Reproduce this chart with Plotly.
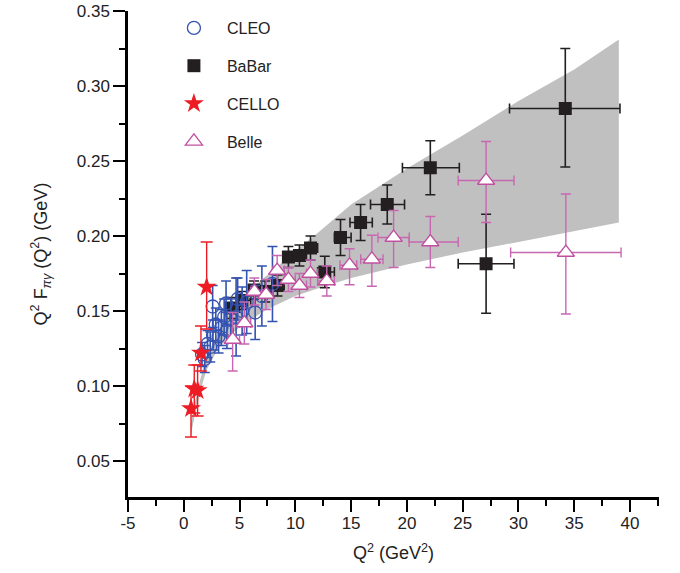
import plotly.graph_objects as go

# ---------------- data ----------------
# theory band (Q^2, lower and upper edge of Q^2 F)
band_q2 = [0.6, 1.0, 1.5, 2.0, 3.0, 4.0, 5.0, 6.0, 7.0, 8.0, 10.0, 12.0, 15.0, 20.0, 25.0, 30.0, 35.0, 39.0]
band_lo = [0.066, 0.081, 0.097, 0.110, 0.124, 0.133, 0.139, 0.144, 0.149, 0.153, 0.160, 0.165, 0.172, 0.181, 0.189, 0.196, 0.203, 0.209]
band_hi = [0.074, 0.089, 0.105, 0.119, 0.135, 0.147, 0.156, 0.164, 0.171, 0.177, 0.190, 0.202, 0.221, 0.245, 0.267, 0.290, 0.311, 0.331]

# CLEO
cleo_q2 = [1.64, 1.88, 2.13, 2.37, 2.59, 2.62, 2.87, 3.12, 3.37, 3.62, 3.79, 3.87, 4.22, 4.69, 4.83, 5.23, 5.64, 6.40, 7.00, 7.95]
cleo_f = [0.121, 0.118, 0.128, 0.126, 0.153, 0.134, 0.141, 0.133, 0.139, 0.146, 0.155, 0.137, 0.145, 0.146, 0.158, 0.150, 0.156, 0.149, 0.160, 0.168]
cleo_err = [0.008, 0.009, 0.009, 0.010, 0.014, 0.010, 0.011, 0.011, 0.012, 0.012, 0.015, 0.012, 0.013, 0.026, 0.014, 0.016, 0.021, 0.018, 0.020, 0.025]

# BaBar
babar_q2 = [4.24, 5.21, 6.30, 7.30, 8.40, 9.38, 10.37, 11.36, 12.64, 14.05, 15.85, 18.24, 22.10, 27.10, 34.20]
babar_f = [0.152, 0.157, 0.164, 0.163, 0.167, 0.186, 0.187, 0.192, 0.176, 0.199, 0.209, 0.221, 0.2455, 0.1815, 0.285]
babar_ep = [0.007, 0.006, 0.006, 0.007, 0.007, 0.007, 0.007, 0.008, 0.0105, 0.012, 0.012, 0.013, 0.018, 0.033, 0.040]
babar_em = [0.007, 0.006, 0.006, 0.007, 0.007, 0.007, 0.007, 0.008, 0.0105, 0.012, 0.012, 0.013, 0.018, 0.033, 0.039]
babar_xm = [0.24, 0.21, 0.30, 0.30, 0.40, 0.38, 0.37, 0.36, 0.64, 0.55, 0.95, 1.50, 2.50, 2.50, 5.00]
babar_xp = [0.76, 0.79, 0.70, 0.70, 0.60, 0.62, 0.63, 0.64, 0.86, 0.95, 1.05, 1.55, 2.60, 2.50, 4.90]

# CELLO
cello_q2 = [0.65, 0.94, 1.24, 1.54, 2.05]
cello_f = [0.085, 0.098, 0.097, 0.122, 0.166]
cello_ep = [0.015, 0.016, 0.017, 0.018, 0.030]
cello_em = [0.019, 0.016, 0.017, 0.012, 0.028]

# Belle
belle_q2 = [4.38, 5.43, 6.33, 7.38, 8.37, 9.38, 10.37, 11.36, 12.82, 14.86, 16.86, 18.81, 22.10, 27.10, 34.25]
belle_f = [0.131, 0.142, 0.163, 0.161, 0.177, 0.171, 0.167, 0.175, 0.170, 0.1805, 0.1845, 0.199, 0.196, 0.237, 0.189]
belle_ep = [0.018, 0.014, 0.009, 0.010, 0.010, 0.008, 0.008, 0.009, 0.010, 0.011, 0.016, 0.018, 0.017, 0.026, 0.039]
belle_em = [0.021, 0.014, 0.009, 0.010, 0.010, 0.008, 0.008, 0.009, 0.010, 0.013, 0.018, 0.020, 0.017, 0.028, 0.041]
belle_xm = [0.38, 0.43, 0.33, 0.38, 0.37, 0.38, 0.37, 0.36, 0.82, 0.86, 1.00, 1.40, 1.90, 2.50, 4.95]
belle_xp = [0.62, 0.57, 0.67, 0.62, 0.63, 0.62, 0.63, 0.64, 0.68, 0.64, 1.00, 1.40, 2.50, 2.50, 4.95]

x_tickvals = [-5, 0, 5, 10, 15, 20, 25, 30, 35, 40]
x_ticktext = ["-5", "0", "5", "10", "15", "20", "25", "30", "35", "40"]
y_tickvals = [0.05, 0.10, 0.15, 0.20, 0.25, 0.30, 0.35]
y_ticktext = ["0.05", "0.10", "0.15", "0.20", "0.25", "0.30", "0.35"]

# ---------------- styles ----------------
FONT = "Liberation Sans, Arial, Helvetica, sans-serif"
BLUE = "#3553b0"
BLACK = "#231f20"
RED = "#ed1c24"
MAG = "#c0509f"
MAG_BAR = "#c767b2"
GRAY = "rgb(192,192,192)"

fig = go.Figure()

# theory band
fig.add_trace(go.Scatter(x=band_q2, y=band_lo, mode="lines", line=dict(width=0, color=GRAY),
                         showlegend=False, hoverinfo="skip"))
fig.add_trace(go.Scatter(x=band_q2, y=band_hi, mode="lines", line=dict(width=0, color=GRAY),
                         fill="tonexty", fillcolor=GRAY, showlegend=False, hoverinfo="skip"))

# BaBar
fig.add_trace(go.Scatter(
    x=babar_q2, y=babar_f, mode="markers", name="BaBar", legendrank=2, legendgroup="b",
    marker=dict(symbol="square", size=13, color=BLACK, line=dict(width=0)),
    error_y=dict(type="data", symmetric=False, array=babar_ep, arrayminus=babar_em,
                 color=BLACK, thickness=1.6, width=5),
    error_x=dict(type="data", symmetric=False, array=babar_xp, arrayminus=babar_xm,
                 color=BLACK, thickness=1.6, width=5),
))

# CLEO
fig.add_trace(go.Scatter(
    x=cleo_q2, y=cleo_f, mode="markers", name="CLEO", legendrank=1, legendgroup="c",
    marker=dict(symbol="circle-open", size=13, color=BLUE, line=dict(width=1.3)),
    error_y=dict(type="data", array=cleo_err, color=BLUE, thickness=1.6, width=5),
))

# Belle
fig.add_trace(go.Scatter(
    x=belle_q2, y=belle_f, mode="markers", name="Belle", legendrank=4, legendgroup="e",
    marker=dict(symbol="triangle-up", size=15, color="white", line=dict(width=1.3, color=MAG)),
    error_y=dict(type="data", symmetric=False, array=belle_ep, arrayminus=belle_em,
                 color=MAG_BAR, thickness=1.4, width=5),
    error_x=dict(type="data", symmetric=False, array=belle_xp, arrayminus=belle_xm,
                 color=MAG_BAR, thickness=1.4, width=5),
))

# CELLO
fig.add_trace(go.Scatter(
    x=cello_q2, y=cello_f, mode="markers", name="CELLO", legendrank=3, legendgroup="d",
    marker=dict(symbol="star", size=15, color=RED, line=dict(width=0)),
    error_y=dict(type="data", symmetric=False, array=cello_ep, arrayminus=cello_em,
                 color=RED, thickness=1.4, width=6),
))

axis_common = dict(
    showline=True, linewidth=2.5, linecolor="black", mirror=False,
    ticks="outside", ticklen=12, tickwidth=2, tickcolor="black",
    showgrid=False, zeroline=False, automargin=False,
    tickfont=dict(family=FONT, size=17, color="#222"),
)

fig.update_layout(
    width=680, height=573,
    margin=dict(l=128, r=21, t=11, b=76),
    paper_bgcolor="white", plot_bgcolor="white",
    font=dict(family=FONT, color="#222"),
    showlegend=True,
    legend=dict(x=0.062, y=1.0, xanchor="left", yanchor="top",
                bgcolor="rgba(0,0,0,0)", borderwidth=0,
                font=dict(family=FONT, size=16, color="#222"),
                itemwidth=56, tracegroupgap=14, itemsizing="trace"),
    xaxis=dict(range=[-5, 42.6], tickvals=x_tickvals, ticktext=x_ticktext, ticklabelstandoff=-3,
               minor=dict(ticks="outside", ticklen=6, tickwidth=2, dtick=2.5, tick0=0, tickcolor="black"),
               title=dict(text="Q<sup>2</sup> (GeV<sup>2</sup>)", font=dict(family=FONT, size=18)),
               **axis_common),
    yaxis=dict(range=[0.026, 0.35], tickvals=y_tickvals, ticktext=y_ticktext,
               minor=dict(ticks="outside", ticklen=6, tickwidth=2, dtick=0.025, tick0=0.025, tickcolor="black"),
               title=dict(text="Q<sup>2</sup> F<sub><i>πγ</i></sub> (Q<sup>2</sup>) (GeV)", font=dict(family=FONT, size=18),
                          standoff=25),
               **axis_common),
)

fig.write_html("out.html", config={"displayModeBar": False},
               post_script="document.body.style.margin='0px';")
